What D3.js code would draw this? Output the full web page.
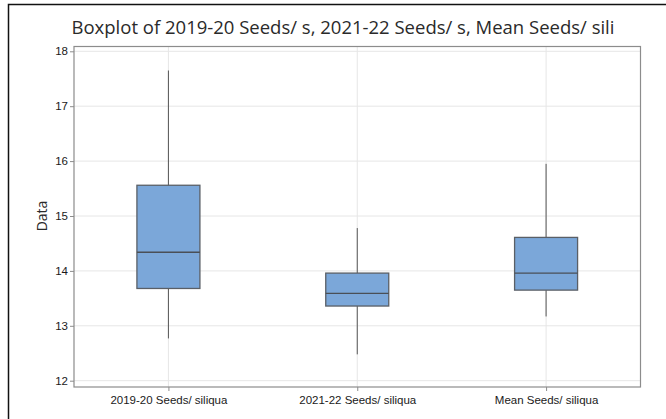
<!DOCTYPE html>
<html>
<head>
<meta charset="UTF-8">
<title>Boxplot</title>
<style>
  body { margin: 0; background: #fff; }
  svg { display: block; font-family: "Open Sans", "Noto Sans", sans-serif; }
  .grid line { stroke: #e6e6e6; stroke-width: 1; }
  .axis path, .axis line { stroke: #8c8c8c; }
  .axis text { fill: #1a1a1a; font-size: 11.5px; }
</style>
</head>
<body>
<svg id="chart" width="666" height="419"></svg>
<script src="https://cdn.jsdelivr.net/npm/d3@7"></script>
<script>
  "use strict";

  // data
  var categories = ["2019-20 Seeds/ siliqua", "2021-22 Seeds/ siliqua", "Mean Seeds/ siliqua"];
  var whiskerLow = [12.77, 12.48, 13.17];
  var q1 = [13.68, 13.36, 13.65];
  var median = [14.34, 13.59, 13.96];
  var q3 = [15.56, 13.96, 14.61];
  var whiskerHigh = [17.65, 14.78, 15.95];
  var yTicks = [12, 13, 14, 15, 16, 17, 18];

  var svg = d3.select("#chart");
  var plotLeft = 74, plotRight = 640.5, plotTop = 46.5, plotBottom = 387;

  var x = d3.scalePoint().domain(categories).range([plotLeft, plotRight]).padding(0.5);
  var y = d3.scaleLinear().domain([12, 18]).range([380.7, 51.3]);

  // outer frame
  svg.append("rect")
    .attr("x", 8.5).attr("y", 4.5)
    .attr("width", 700).attr("height", 500)
    .attr("fill", "none").attr("stroke", "#111").attr("stroke-width", 1.5);

  svg.append("text")
    .attr("x", 343).attr("y", 34)
    .attr("text-anchor", "middle")
    .attr("font-size", "18.5px")
    .attr("fill", "#2a2a2a")
    .text("Boxplot of 2019-20 Seeds/ s, 2021-22 Seeds/ s, Mean Seeds/ sili");

  // gridlines
  var grid = svg.append("g").attr("class", "grid");
  grid.selectAll("line.h").data(yTicks).enter().append("line")
    .attr("class", "h")
    .attr("x1", plotLeft).attr("x2", plotRight)
    .attr("y1", function(d){ return y(d); })
    .attr("y2", function(d){ return y(d); });
  grid.selectAll("line.v").data(categories).enter().append("line")
    .attr("class", "v")
    .attr("y1", plotTop).attr("y2", plotBottom)
    .attr("x1", function(d){ return x(d); })
    .attr("x2", function(d){ return x(d); });

  // axes
  svg.append("g")
    .attr("class", "axis")
    .attr("transform", "translate(" + plotLeft + ",0)")
    .call(d3.axisLeft(y).tickValues(yTicks).tickFormat(d3.format("d")).tickSize(4).tickPadding(2).tickSizeOuter(0))
    .call(function(g){ g.select(".domain").remove(); });

  svg.append("g")
    .attr("class", "axis")
    .attr("transform", "translate(0," + plotBottom + ")")
    .call(d3.axisBottom(x).tickSize(4).tickPadding(5).tickSizeOuter(0))
    .call(function(g){ g.select(".domain").remove(); });

  // plot frame
  svg.append("rect")
    .attr("x", plotLeft).attr("y", plotTop)
    .attr("width", plotRight - plotLeft).attr("height", plotBottom - plotTop)
    .attr("fill", "none").attr("stroke", "#8c8c8c").attr("stroke-width", 1.2);

  svg.append("text")
    .attr("transform", "translate(47,216) rotate(-90)")
    .attr("text-anchor", "middle")
    .attr("font-size", "14px")
    .attr("fill", "#2a2a2a")
    .text("Data");

  // boxes
  var boxW = 63;
  var boxes = svg.append("g").selectAll("g").data(categories).enter().append("g");

  boxes.append("line")
    .attr("x1", function(d){ return x(d); })
    .attr("x2", function(d){ return x(d); })
    .attr("y1", function(d, i){ return y(whiskerHigh[i]); })
    .attr("y2", function(d, i){ return y(q3[i]); })
    .attr("stroke", "#555").attr("stroke-width", 1);
  boxes.append("line")
    .attr("x1", function(d){ return x(d); })
    .attr("x2", function(d){ return x(d); })
    .attr("y1", function(d, i){ return y(q1[i]); })
    .attr("y2", function(d, i){ return y(whiskerLow[i]); })
    .attr("stroke", "#555").attr("stroke-width", 1);
  boxes.append("rect")
    .attr("x", function(d){ return x(d) - boxW / 2; })
    .attr("width", boxW)
    .attr("y", function(d, i){ return y(q3[i]); })
    .attr("height", function(d, i){ return y(q1[i]) - y(q3[i]); })
    .attr("fill", "#7ba7d9").attr("stroke", "#5a5f66").attr("stroke-width", 1.3);
  boxes.append("line")
    .attr("x1", function(d){ return x(d) - boxW / 2; })
    .attr("x2", function(d){ return x(d) + boxW / 2; })
    .attr("y1", function(d, i){ return y(median[i]); })
    .attr("y2", function(d, i){ return y(median[i]); })
    .attr("stroke", "#4a4f56").attr("stroke-width", 1.3);
</script>
</body>
</html>
